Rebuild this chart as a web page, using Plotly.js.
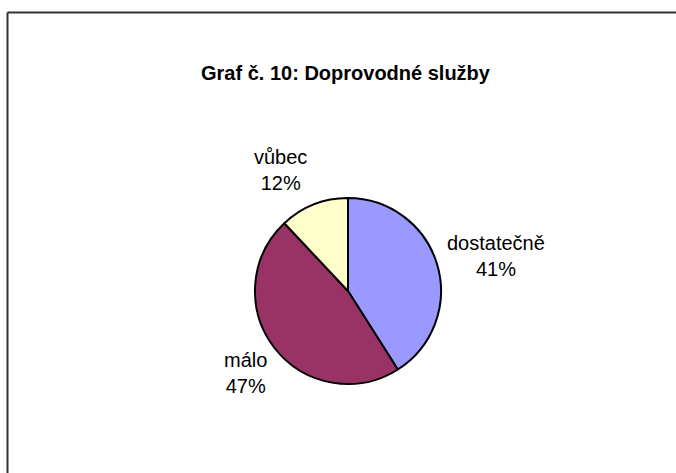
<!DOCTYPE html>
<html>
<head>
<meta charset="utf-8">
<script src="https://cdn.plot.ly/plotly-3.0.1.min.js"></script>
<style>html,body{margin:0;padding:0;background:#fff;overflow:hidden;}#chart{width:676px;height:473px;}</style>
</head>
<body>
<div id="chart"></div>
<script>
const categories = ["dostatečně", "málo", "vůbec"];
const values = [41, 47, 12];
const colors = ["#9999FF", "#993366", "#FFFFCC"];
const chartTitle = "Graf č. 10: Doprovodné služby";

const W = 676, H = 473;
const cx = 348, cy = 291, r = 93;
// label block centres (pixels)
const labelPos = [[496, 256], [245, 373], [280, 170]];

const total = values.reduce((a, b) => a + b, 0);
const annotations = categories.map((c, i) => ({
  text: c + "<br>" + Math.round(values[i] / total * 100) + "%",
  x: labelPos[i][0] / W, y: 1 - labelPos[i][1] / H,
  xref: "paper", yref: "paper", xanchor: "center", yanchor: "middle",
  showarrow: false, align: "center",
  font: {family: "Liberation Sans, Arial, sans-serif", size: 20, color: "#000"}
}));

const data = [{
  type: "pie",
  labels: categories,
  values: values,
  sort: false,
  direction: "clockwise",
  rotation: 0,
  textinfo: "none",
  hoverinfo: "none",
  marker: {colors: colors, line: {color: "#000", width: 2}},
  domain: {x: [(cx - r) / W, (cx + r) / W], y: [1 - (cy + r) / H, 1 - (cy - r) / H]},
  showlegend: false
}];

const frameX = 7.5 / W, frameY = 1 - 12.5 / H;
const layout = {
  width: W, height: H,
  margin: {l: 0, r: 0, t: 0, b: 0},
  paper_bgcolor: "#fff",
  plot_bgcolor: "#fff",
  title: {
    text: "<b>" + chartTitle + "</b>",
    x: 345.5 / W, xanchor: "center", xref: "paper",
    y: 1 - 73 / H, yanchor: "middle", yref: "container",
    font: {family: "Liberation Sans, Arial, sans-serif", size: 20, color: "#000"}
  },
  annotations: annotations,
  shapes: [
    {type: "line", xref: "paper", yref: "paper", x0: frameX, x1: 1, y0: frameY, y1: frameY,
     line: {color: "#333", width: 2}},
    {type: "line", xref: "paper", yref: "paper", x0: frameX, x1: frameX, y0: 0, y1: frameY,
     line: {color: "#333", width: 2}}
  ]
};

Plotly.newPlot("chart", data, layout, {staticPlot: true});
</script>
</body>
</html>
